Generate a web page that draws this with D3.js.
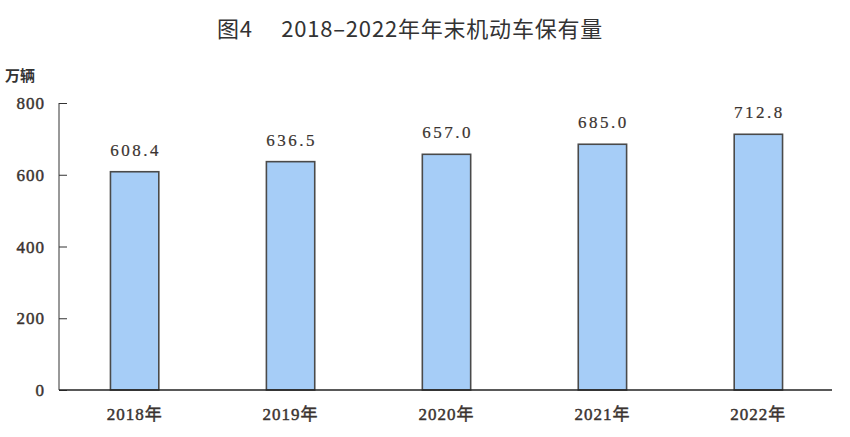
<!DOCTYPE html>
<html lang="zh">
<head>
  <meta charset="UTF-8">
  <title>图4 2018-2022年年末机动车保有量</title>
  <script src="https://d3js.org/d3.v7.min.js"></script>
  <style>
    body, html { margin: 0; padding: 0; background: #fff; }
    .title { font-family: "Noto Sans CJK SC", "Noto Sans", sans-serif; font-size: 22px; fill: #333; letter-spacing: 0.8px; }
    .unit { font-family: "Noto Sans CJK SC", sans-serif; font-size: 15px; font-weight: bold; fill: #333; }
    .tick-label { font-family: "Liberation Serif", "Noto Sans CJK SC", serif; font-size: 17px; fill: #3a3330; stroke: #3a3330; stroke-width: 0.45px; letter-spacing: 1px; }
    .value-label { font-family: "Liberation Serif", serif; font-size: 17px; fill: #3a3330; stroke: #3a3330; stroke-width: 0.2px; letter-spacing: 2.5px; }
    .bar { fill: #a6cdf7; stroke: #4a4a4a; stroke-width: 1.6px; }
  </style>
</head>
<body>
  <svg id="chart" width="850" height="437"></svg>
  <script>
    const years = ["2018年", "2019年", "2020年", "2021年", "2022年"];
    const vehicles = [608.4, 636.5, 657.0, 685.0, 712.8];
    const yTicks = [0, 200, 400, 600, 800];

    const svg = d3.select("#chart");
    const margin = { left: 59, right: 16, top: 103, bottom: 47 };
    const width = 850, height = 437;

    const x = d3.scaleBand()
      .domain(years)
      .range([margin.left, width - margin.right])
      .paddingInner(0.69)
      .paddingOuter(0.33);

    const y = d3.scaleLinear()
      .domain([0, 800])
      .range([height - margin.bottom, margin.top]);

    // title
    svg.append("text")
      .attr("class", "title")
      .attr("x", 410)
      .attr("y", 37)
      .attr("text-anchor", "middle")
      .text("图4\u3000 2018–2022年年末机动车保有量");

    svg.append("text")
      .attr("class", "unit")
      .attr("x", 5)
      .attr("y", 81)
      .text("万辆");

    // y axis with inward ticks
    const yAxis = svg.append("g")
      .attr("transform", `translate(${margin.left},0)`)
      .call(d3.axisRight(y).tickValues(yTicks).tickSize(8).tickFormat(""));
    yAxis.select(".domain").attr("d", `M0,${y(800)}V${y(0)}`).attr("stroke", "#333");
    yAxis.selectAll(".tick line").attr("stroke", "#333");

    svg.selectAll(".y-label")
      .data(yTicks)
      .enter().append("text")
      .attr("class", "tick-label")
      .attr("x", 45)
      .attr("y", d => y(d) + 6)
      .attr("text-anchor", "end")
      .text(d => d);

    // bars
    svg.selectAll(".bar")
      .data(vehicles)
      .enter().append("rect")
      .attr("class", "bar")
      .attr("x", (d, i) => x(years[i]))
      .attr("y", d => y(d))
      .attr("width", x.bandwidth())
      .attr("height", d => y(0) - y(d));

    svg.selectAll(".value-label")
      .data(vehicles)
      .enter().append("text")
      .attr("class", "value-label")
      .attr("x", (d, i) => x(years[i]) + x.bandwidth() / 2 + 1)
      .attr("y", d => y(d) - 16)
      .attr("text-anchor", "middle")
      .text(d => d.toFixed(1));

    // x axis line
    svg.append("line")
      .attr("x1", margin.left)
      .attr("x2", 832)
      .attr("y1", y(0))
      .attr("y2", y(0))
      .attr("stroke", "#222")
      .attr("stroke-width", 1.3);

    svg.selectAll(".x-label")
      .data(years)
      .enter().append("text")
      .attr("class", "tick-label")
      .attr("x", d => x(d) + x.bandwidth() / 2)
      .attr("y", 420)
      .attr("text-anchor", "middle")
      .text(d => d);
  </script>
</body>
</html>
